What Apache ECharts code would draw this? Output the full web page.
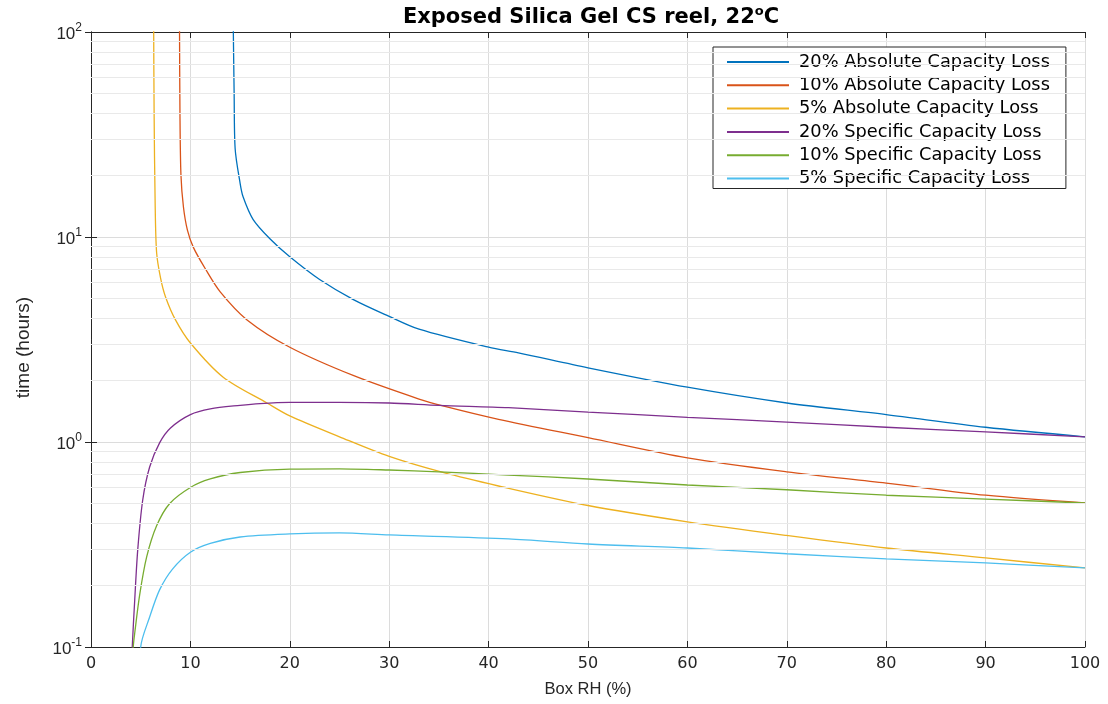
<!DOCTYPE html>
<html><head><meta charset="utf-8">
<script src="https://cdn.jsdelivr.net/npm/echarts@6/dist/echarts.min.js"></script>
<style>html,body{margin:0;padding:0;background:#fff}#c{width:1108px;height:704px}</style>
</head><body><div id="c"></div>
<script>
const seriesNames = ['20% Absolute Capacity Loss','10% Absolute Capacity Loss','5% Absolute Capacity Loss','20% Specific Capacity Loss','10% Specific Capacity Loss','5% Specific Capacity Loss'];
const colors = ['#0072BD','#D95319','#EDB120','#7E2F8E','#77AC30','#4DBEEE'];

const abs20X = [14.3,14.4,14.5,15.0,15.3,16.3,18,20,23,26.4,30,33,40,43,50,60,70,80,90,100];
const abs20Y = [120,50,27,18.3,15.7,12.2,9.8,8.0,6.2,4.95,4.1,3.55,2.9,2.72,2.3,1.85,1.55,1.36,1.18,1.06];
const abs10X = [8.9,8.95,9.05,9.3,9.7,10.3,11.5,13,15.7,20,26.5,33,35.4,41,50,60,70,80,90,100];
const abs10Y = [120,40,20,14,10.8,8.9,7.0,5.4,3.94,2.9,2.1,1.62,1.5,1.29,1.05,0.836,0.715,0.63,0.55,0.504];
const abs5X = [6.3,6.35,6.45,6.6,7.0,7.5,8.5,10,13.3,17.7,20,25,30,35.4,41,50,60,70,80,90,100];
const abs5Y = [120,40,15,8.4,6.3,5.1,3.94,3.04,2.07,1.55,1.34,1.06,0.85,0.71,0.61,0.49,0.408,0.35,0.304,0.272,0.243];
const spec20X = [4.1,4.15,4.4,4.7,5.2,5.9,6.9,8,10,12,15,17,20,25,30,35,42,50,60,70,80,90,100];
const spec20Y = [0.08,0.1,0.17,0.297,0.52,0.755,0.99,1.17,1.36,1.45,1.51,1.54,1.56,1.56,1.55,1.51,1.47,1.40,1.32,1.25,1.18,1.12,1.06];
const spec10X = [4.2,4.25,4.4,4.9,5.6,6.6,7.9,10,12,15,20,25,30,35,42,50,60,70,80,90,100];
const spec10Y = [0.08,0.1,0.117,0.18,0.275,0.39,0.50,0.60,0.66,0.71,0.738,0.74,0.73,0.715,0.69,0.66,0.617,0.585,0.55,0.527,0.504];
const spec5X = [4.95,5.0,5.9,6.9,8.2,10,12,15,20,25,30,42,50,60,70,80,90,100];
const spec5Y = [0.08,0.1,0.14,0.19,0.24,0.29,0.32,0.344,0.356,0.36,0.352,0.337,0.318,0.304,0.285,0.269,0.257,0.243];

const minorY = [0.2,0.3,0.4,0.5,0.6,0.7,0.8,0.9,2,3,4,5,6,7,8,9,20,30,40,50,60,70,80,90];

const allX = [abs20X,abs10X,abs5X,spec20X,spec10X,spec5X];
const allY = [abs20Y,abs10Y,abs5Y,spec20Y,spec10Y,spec5Y];

const FONT = 'Liberation Sans, Arial, Helvetica, sans-serif';
const WFONT = 'DejaVu Sans, Verdana, sans-serif';
const AX = '#262626';

const chart = echarts.init(document.getElementById('c'), null, {renderer:'canvas'});

const series = seriesNames.map((n,i)=>({
  name:n, type:'line', symbol:'none', showSymbol:false, smooth:0.3,
  clip:true, z:3,
  lineStyle:{color:colors[i], width:1.3}, itemStyle:{color:colors[i]},
  data: allX[i].map((x,j)=>[x, allY[i][j]])
}));
series.unshift({
  name:'minorGrid', type:'line', data:[], z:1, silent:true,
  markLine:{silent:true, symbol:'none', label:{show:false}, animation:false,
    lineStyle:{color:'#e9e9e9', width:1, type:'solid'},
    data: minorY.map(v=>({yAxis:v}))}
});

function supLabel(v){
  const e = Math.round(Math.log10(v));
  return '{b|10}{s|' + e + '}';
}
const richY = {
  b:{fontSize:17, fontFamily:FONT, color:AX, verticalAlign:'bottom'},
  s:{fontSize:12, fontFamily:FONT, color:AX, verticalAlign:'bottom', padding:[0,0,9,0]}
};

chart.setOption({
  backgroundColor:'#fff',
  animation:false,
  title:{
    text:'{t|Exposed Silica Gel CS reel, 22}{o|o}{t|C}',
    left:586, top:0, textAlign:'center',
    textStyle:{rich:{
      t:{fontSize:21, fontWeight:'bold', fontFamily:WFONT, color:'#000', verticalAlign:'bottom'},
      o:{fontSize:13, fontWeight:'bold', fontFamily:WFONT, color:'#000', verticalAlign:'bottom', padding:[0,0,10,0]}
    }}
  },
  legend:{
    data:seriesNames, orient:'vertical', left:713, top:47,
    padding:[5,16,0,14], itemGap:3.3, itemWidth:62, itemHeight:14,
    backgroundColor:'#fff', borderColor:'#262626', borderWidth:1,
    textStyle:{fontSize:17.8, lineHeight:20, fontFamily:WFONT, color:'#000', padding:[0,0,0,5]},
    icon:'path://M0,6 L62,6 L62,8 L0,8 Z'
  },
  grid:{left:91, right:23, top:32, bottom:57, containLabel:false},
  xAxis:[{
    type:'value', min:0, max:100, interval:10, position:'bottom',
    name:'Box RH (%)', nameLocation:'middle', nameGap:34,
    nameTextStyle:{fontSize:16.5, fontFamily:FONT, color:AX},
    axisLine:{show:true, lineStyle:{color:AX, width:1}},
    axisTick:{show:true, inside:true, length:6, lineStyle:{color:AX}},
    axisLabel:{fontSize:16, fontFamily:WFONT, color:AX, margin:9},
    splitLine:{show:true, lineStyle:{color:'#dcdcdc', width:1}}
  },{
    type:'value', min:0, max:100, interval:10, position:'top',
    axisLine:{show:true, lineStyle:{color:AX, width:1}},
    axisTick:{show:true, inside:true, length:6, lineStyle:{color:AX}},
    axisLabel:{show:false}, splitLine:{show:false}
  }],
  yAxis:[{
    type:'log', logBase:10, min:0.1, max:100, position:'left',
    name:'time (hours)', nameLocation:'middle', nameGap:58, nameRotate:90,
    nameTextStyle:{fontSize:19, fontFamily:FONT, color:AX, padding:[0,16,0,0]},
    axisLine:{show:true, lineStyle:{color:AX, width:1}},
    axisTick:{show:true, inside:true, length:6, lineStyle:{color:AX}},
    axisLabel:{formatter:supLabel, rich:richY, margin:9},
    splitLine:{show:true, lineStyle:{color:'#dcdcdc', width:1}}
  },{
    type:'log', logBase:10, min:0.1, max:100, position:'right',
    axisLine:{show:true, lineStyle:{color:AX, width:1}},
    axisTick:{show:true, inside:true, length:6, lineStyle:{color:AX}},
    axisLabel:{show:false}, splitLine:{show:false}
  }],
  series: series
});
</script>
</body></html>
